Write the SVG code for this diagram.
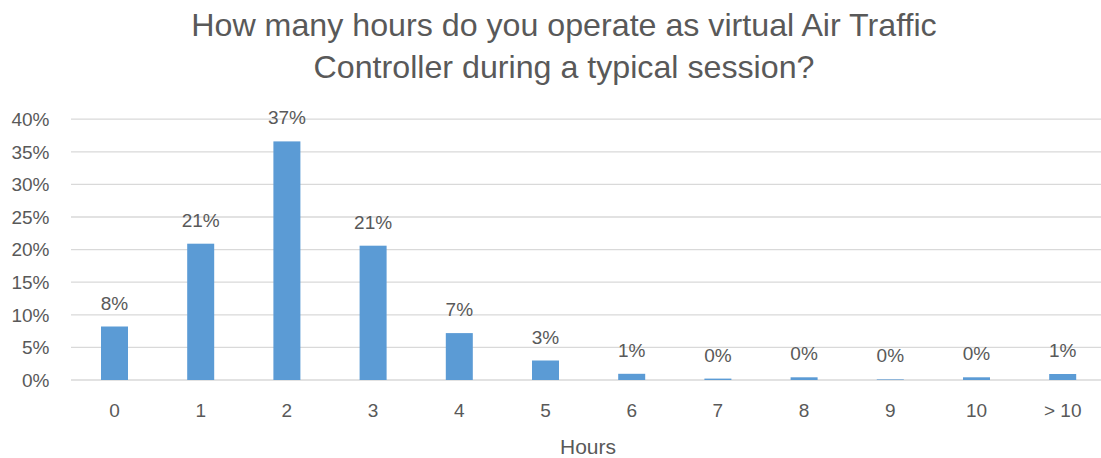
<svg xmlns="http://www.w3.org/2000/svg" width="1101" height="458" viewBox="0 0 1101 458">
<style>
text{font-family:"Liberation Sans",Arial,sans-serif;fill:#595959}
.t{font-size:32.2px;text-anchor:middle}
.y{font-size:19px;text-anchor:end}
.x{font-size:19px;text-anchor:middle}
.d{font-size:19px;text-anchor:middle}
.g{stroke:#d9d9d9;stroke-width:1.3}
.b{fill:#5b9bd5}
</style>
<rect width="1101" height="458" fill="#ffffff"/>
<g id="title">
<text class="t" x="564" y="36">How many hours do you operate as virtual Air Traffic</text>
<text class="t" x="564" y="78">Controller during a typical session?</text>
</g>
<g id="gridlines">
<line class="g" x1="71" y1="119.2" x2="1106" y2="119.2"/>
<line class="g" x1="71" y1="151.8" x2="1106" y2="151.8"/>
<line class="g" x1="71" y1="184.4" x2="1106" y2="184.4"/>
<line class="g" x1="71" y1="217" x2="1106" y2="217"/>
<line class="g" x1="71" y1="249.6" x2="1106" y2="249.6"/>
<line class="g" x1="71" y1="282.2" x2="1106" y2="282.2"/>
<line class="g" x1="71" y1="314.8" x2="1106" y2="314.8"/>
<line class="g" x1="71" y1="347.4" x2="1106" y2="347.4"/>
<line class="g" x1="71" y1="380" x2="1106" y2="380"/>
</g>
<g id="y-axis">
<text class="y" x="49.5" y="126">40%</text>
<text class="y" x="49.5" y="158.5">35%</text>
<text class="y" x="49.5" y="191.1">30%</text>
<text class="y" x="49.5" y="223.7">25%</text>
<text class="y" x="49.5" y="256.3">20%</text>
<text class="y" x="49.5" y="288.9">15%</text>
<text class="y" x="49.5" y="321.5">10%</text>
<text class="y" x="49.5" y="354.1">5%</text>
<text class="y" x="49.5" y="386.7">0%</text>
</g>
<g id="bars">
<rect class="b" x="101" y="326.5" width="27" height="53.5"/>
<rect class="b" x="187.2" y="243.7" width="27" height="136.3"/>
<rect class="b" x="273.4" y="141.4" width="27" height="238.6"/>
<rect class="b" x="359.6" y="245.7" width="27" height="134.3"/>
<rect class="b" x="445.8" y="333.1" width="27" height="46.9"/>
<rect class="b" x="532" y="360.5" width="27" height="19.5"/>
<rect class="b" x="618.2" y="373.8" width="27" height="6.2"/>
<rect class="b" x="704.4" y="378.6" width="27" height="1.4"/>
<rect class="b" x="790.6" y="377.3" width="27" height="2.7"/>
<rect class="b" x="876.8" y="379" width="27" height="1" fill-opacity="0.6"/>
<rect class="b" x="963" y="377.3" width="27" height="2.7"/>
<rect class="b" x="1049.2" y="374" width="27" height="6"/>
</g>
<g id="data-labels">
<text class="d" x="114.5" y="309.5">8%</text>
<text class="d" x="200.7" y="226.7">21%</text>
<text class="d" x="286.9" y="124.4">37%</text>
<text class="d" x="373.1" y="228.7">21%</text>
<text class="d" x="459.3" y="316.1">7%</text>
<text class="d" x="545.5" y="343.5">3%</text>
<text class="d" x="631.7" y="356.8">1%</text>
<text class="d" x="717.9" y="361.6">0%</text>
<text class="d" x="804.1" y="360.3">0%</text>
<text class="d" x="890.3" y="362">0%</text>
<text class="d" x="976.5" y="360.3">0%</text>
<text class="d" x="1062.7" y="357">1%</text>
</g>
<g id="x-axis">
<text class="x" x="114.5" y="416.7">0</text>
<text class="x" x="200.7" y="416.7">1</text>
<text class="x" x="286.9" y="416.7">2</text>
<text class="x" x="373.1" y="416.7">3</text>
<text class="x" x="459.3" y="416.7">4</text>
<text class="x" x="545.5" y="416.7">5</text>
<text class="x" x="631.7" y="416.7">6</text>
<text class="x" x="717.9" y="416.7">7</text>
<text class="x" x="804.1" y="416.7">8</text>
<text class="x" x="890.3" y="416.7">9</text>
<text class="x" x="976.5" y="416.7">10</text>
<text class="x" x="1062.7" y="416.7">&gt; 10</text>
<text class="x" x="588" y="454" style="font-size:21px">Hours</text>
</g>
</svg>
